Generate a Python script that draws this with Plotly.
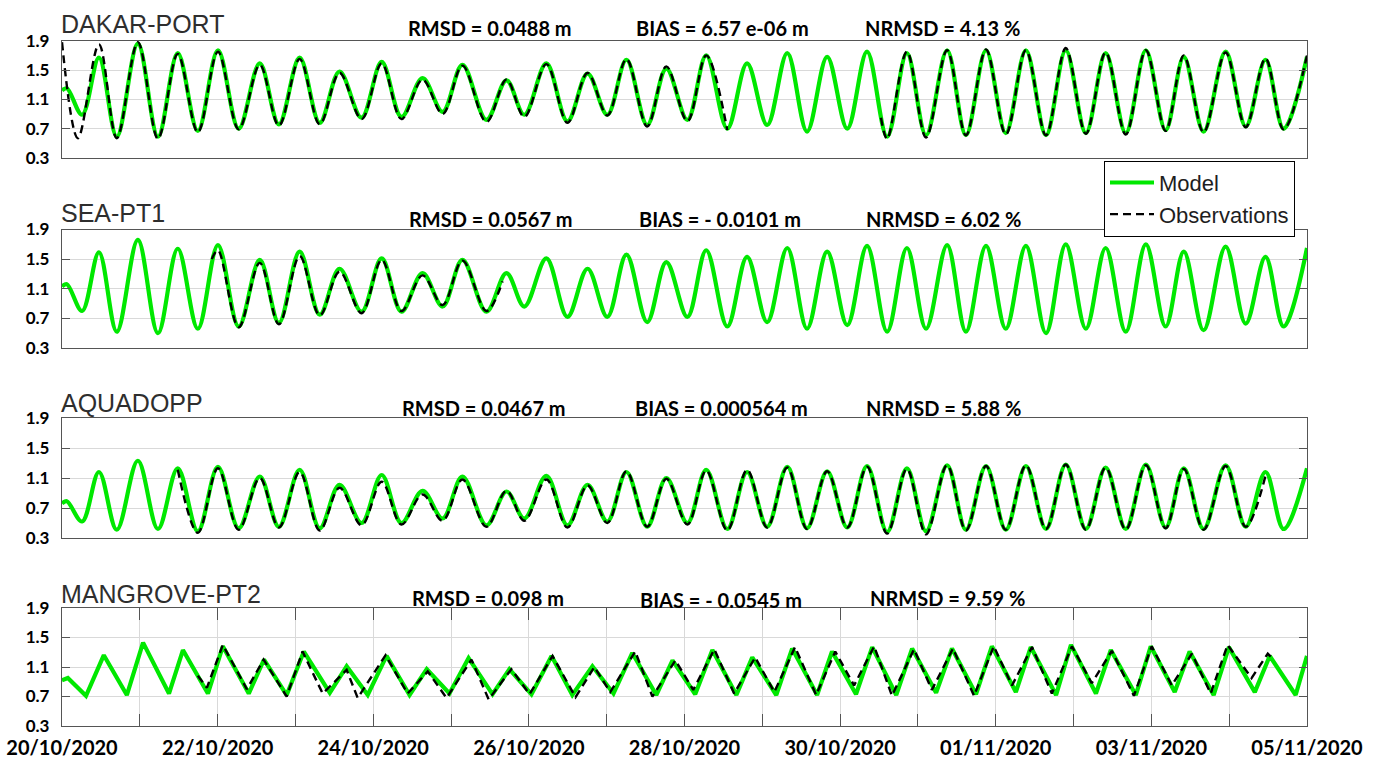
import plotly.graph_objects as go

# ------------------------------------------------------------------ data
# times (hours after 20/10/2020 00:00) of the turning points read off panels 1-3
hours_p123 = [0.0, 1.5, 6.2, 11.4, 16.9, 23.4, 29.6, 35.7, 41.9, 48.1, 54.5, 61.0, 66.9,
              73.3, 79.5, 85.6, 92.4, 98.6, 104.7, 111.2, 117.4, 123.5, 130.9, 137.1,
              142.6, 149.4, 155.9, 162.1, 168.2, 174.1, 180.5, 186.4, 192.9, 198.7,
              205.2, 211.3, 217.5, 223.7, 229.8, 236.0, 242.2, 248.3, 254.5, 260.6,
              266.5, 273.0, 278.8, 285.0, 291.1, 297.3, 303.5, 309.6, 315.8, 321.9,
              328.1, 334.3, 340.4, 346.0, 352.1, 358.9, 365.1, 371.2, 376.8, 384.0]

dakar_model = [1.22, 1.25, 0.89, 1.67, 0.59, 1.86, 0.59, 1.73, 0.67, 1.77, 0.70, 1.59, 0.76,
               1.67, 0.78, 1.48, 0.85, 1.61, 0.86, 1.39, 0.93, 1.57, 0.82, 1.36, 0.89, 1.59,
               0.80, 1.45, 0.89, 1.64, 0.75, 1.52, 0.82, 1.70, 0.70, 1.59, 0.75, 1.73, 0.66,
               1.68, 0.70, 1.75, 0.59, 1.73, 0.61, 1.77, 0.61, 1.77, 0.64, 1.77, 0.61, 1.77,
               0.64, 1.73, 0.64, 1.77, 0.68, 1.68, 0.66, 1.75, 0.73, 1.64, 0.70, 1.68]
dakar_obs_hours = [0.0, 4.9, 11.4, 16.9, 23.4, 29.6, 35.7, 41.9, 48.1, 54.5, 61.0, 66.9, 73.3,
                   79.5, 85.6, 92.4, 98.6, 104.7, 111.2, 117.4, 123.5, 130.9, 137.1, 142.6,
                   149.4, 155.9, 162.1, 168.2, 174.1, 180.5, 186.4, 192.9, 198.7, 205.2,
                   230.0, 252.6, 254.5, 260.6, 266.5, 273.0, 278.8, 285.0, 291.1, 297.3,
                   303.5, 309.6, 315.8, 321.9, 328.1, 334.3, 340.4, 346.0, 352.1, 358.9,
                   365.1, 371.2, 376.8, 384.0]
dakar_obs = [1.88, 0.57, 1.85, 0.57, 1.88, 0.56, 1.72, 0.65, 1.75, 0.69, 1.57, 0.74, 1.65,
             0.76, 1.46, 0.83, 1.59, 0.83, 1.37, 0.90, 1.56, 0.79, 1.37, 0.86, 1.58, 0.78,
             1.46, 0.88, 1.65, 0.73, 1.55, 0.80, 1.70, 0.68, None, 0.85, 0.56, 1.75, 0.58,
             1.77, 0.61, 1.78, 0.62, 1.77, 0.61, 1.80, 0.63, 1.74, 0.62, 1.77, 0.67, 1.70,
             0.65, 1.74, 0.72, 1.66, 0.69, 1.70]

seapt1_model = [1.13, 1.16, 0.80, 1.59, 0.52, 1.76, 0.50, 1.64, 0.56, 1.69, 0.59, 1.49, 0.64,
                1.60, 0.75, 1.37, 0.79, 1.51, 0.79, 1.31, 0.86, 1.49, 0.79, 1.31, 0.86, 1.51,
                0.72, 1.37, 0.72, 1.56, 0.65, 1.46, 0.72, 1.62, 0.59, 1.53, 0.65, 1.65, 0.56,
                1.60, 0.61, 1.68, 0.52, 1.65, 0.56, 1.69, 0.52, 1.68, 0.56, 1.68, 0.50, 1.70,
                0.56, 1.65, 0.52, 1.70, 0.59, 1.60, 0.54, 1.67, 0.63, 1.53, 0.59, 1.65]
seapt1_obs_hours = [46.2, 48.1, 54.5, 61.0, 66.9, 73.3, 79.5, 85.6, 92.4, 98.6, 104.7, 111.2,
                    117.4, 123.5, 130.9, 135.9]
seapt1_obs = [1.50, 1.62, 0.58, 1.45, 0.62, 1.54, 0.74, 1.33, 0.77, 1.49, 0.80, 1.28, 0.88,
              1.48, 0.80, 1.20]

aquadopp_model = [0.76, 0.79, 0.52, 1.18, 0.41, 1.33, 0.42, 1.23, 0.39, 1.25, 0.43, 1.12, 0.45,
                  1.21, 0.43, 1.01, 0.50, 1.14, 0.50, 0.93, 0.56, 1.12, 0.47, 0.92, 0.56, 1.13,
                  0.47, 1.01, 0.52, 1.18, 0.45, 1.10, 0.50, 1.21, 0.42, 1.18, 0.45, 1.25, 0.43,
                  1.19, 0.44, 1.26, 0.38, 1.23, 0.39, 1.27, 0.41, 1.26, 0.41, 1.26, 0.42, 1.28,
                  0.42, 1.24, 0.42, 1.28, 0.44, 1.23, 0.42, 1.27, 0.45, 1.18, 0.42, 1.23]
aquadopp_obs_hours = [35.7, 41.9, 48.1, 54.5, 61.0, 66.9, 73.3, 79.5, 85.6, 92.4, 98.6, 104.7,
                      111.2, 117.4, 123.5, 130.9, 137.1, 142.6, 149.4, 155.9, 162.1, 168.2,
                      174.1, 180.5, 186.4, 192.9, 198.7, 205.2, 211.3, 217.5, 223.7, 229.8,
                      236.0, 242.2, 248.3, 254.5, 260.6, 266.5, 273.0, 278.8, 285.0, 291.1,
                      297.3, 303.5, 309.6, 315.8, 321.9, 328.1, 334.3, 340.4, 346.0, 352.1,
                      358.9, 365.1, 371.2]
aquadopp_obs = [1.21, 0.37, 1.23, 0.41, 1.10, 0.44, 1.18, 0.40, 0.97, 0.47, 1.05, 0.48, 0.88,
                0.53, 1.08, 0.45, 0.93, 0.53, 1.08, 0.44, 1.00, 0.50, 1.19, 0.45, 1.09, 0.48,
                1.20, 0.40, 1.21, 0.44, 1.24, 0.42, 1.19, 0.44, 1.25, 0.36, 1.22, 0.35, 1.27,
                0.40, 1.26, 0.41, 1.27, 0.42, 1.28, 0.41, 1.24, 0.41, 1.27, 0.43, 1.22, 0.41,
                1.26, 0.45, 1.13]

mangrove_hours = [0.0, 1.8, 7.4, 12.9, 20.0, 25.0, 33.0, 37.3, 45.0, 49.6, 57.6, 62.3, 69.3,
                  74.6, 82.6, 87.8, 94.3, 100.1, 107.2, 112.5, 119.5, 125.4, 132.8, 138.0,
                  144.8, 151.0, 157.4, 163.6, 170.1, 175.9, 183.3, 188.3, 195.3, 200.6, 208.0,
                  212.9, 220.3, 225.2, 232.9, 237.5, 244.9, 249.9, 257.3, 262.2, 269.6, 274.5,
                  281.9, 286.8, 294.2, 298.8, 306.6, 311.2, 318.9, 323.5, 331.2, 335.8, 343.2,
                  347.8, 355.2, 359.9, 367.9, 372.5, 380.5, 384.0]
mangrove_model = [0.92, 0.95, 0.71, 1.26, 0.72, 1.43, 0.74, 1.33, 0.74, 1.38, 0.74, 1.20, 0.72,
                  1.31, 0.75, 1.11, 0.72, 1.25, 0.72, 1.07, 0.74, 1.22, 0.73, 1.07, 0.73, 1.25,
                  0.72, 1.11, 0.74, 1.29, 0.72, 1.19, 0.73, 1.33, 0.72, 1.23, 0.72, 1.35, 0.72,
                  1.31, 0.73, 1.37, 0.72, 1.35, 0.75, 1.35, 0.73, 1.38, 0.76, 1.37, 0.72, 1.40,
                  0.74, 1.33, 0.72, 1.38, 0.76, 1.31, 0.72, 1.37, 0.76, 1.25, 0.72, 1.25]
mangrove_obs_hours = [41.9, 44.7, 49.6, 57.0, 62.2, 69.3, 74.2, 80.4, 87.8, 91.2, 99.8, 106.6,
                      112.8, 118.6, 126.3, 131.6, 138.6, 144.2, 151.3, 158.4, 164.2, 169.1,
                      176.8, 182.1, 189.2, 194.7, 201.2, 207.3, 213.8, 219.7, 226.1, 232.6,
                      238.5, 244.3, 250.5, 256.0, 262.8, 268.3, 274.8, 281.3, 287.4, 293.0,
                      299.2, 305.3, 311.5, 317.6, 323.8, 330.6, 336.1, 342.3, 348.5, 354.3,
                      359.5, 366.9, 371.9, 373.7]
mangrove_obs = [0.98, 0.82, 1.40, 0.80, 1.20, 0.70, 1.31, 0.74, 1.06, 0.68, 1.26, 0.74, 1.04,
                0.68, 1.20, 0.66, 1.07, 0.73, 1.25, 0.69, 1.10, 0.76, 1.31, 0.70, 1.19, 0.79,
                1.34, 0.74, 1.23, 0.76, 1.37, 0.72, 1.31, 0.85, 1.38, 0.71, 1.34, 0.79, 1.35,
                0.71, 1.38, 0.85, 1.37, 0.74, 1.38, 0.88, 1.32, 0.71, 1.38, 0.85, 1.28, 0.74,
                1.40, 0.95, 1.28, 1.20]

station_names = ["DAKAR-PORT", "SEA-PT1", "AQUADOPP", "MANGROVE-PT2"]
rmsd_labels = ["RMSD = 0.0488 m", "RMSD = 0.0567 m", "RMSD = 0.0467 m", "RMSD = 0.098 m"]
bias_labels = ["BIAS = 6.57 e-06 m", "BIAS = - 0.0101 m", "BIAS = 0.000564 m",
               "BIAS = - 0.0545 m"]
nrmsd_labels = ["NRMSD = 4.13 %", "NRMSD = 6.02 %", "NRMSD = 5.88 %", "NRMSD = 9.59 %"]

y_tick_values = [0.3, 0.7, 1.1, 1.5, 1.9]
y_tick_labels = ["0.3", "0.7", "1.1", "1.5", "1.9"]
day_tick_hours = [0, 24, 48, 72, 96, 120, 144, 168, 192, 216, 240, 264, 288, 312, 336, 360, 384]
day_tick_labels = ["20/10/2020", "", "22/10/2020", "", "24/10/2020", "", "26/10/2020", "",
                   "28/10/2020", "", "30/10/2020", "", "01/11/2020", "", "03/11/2020", "",
                   "05/11/2020"]

# ------------------------------------------------------------------ layout helpers
W, H = 1374, 758
ML, MR, MT, MB = 62, 67, 40, 32
PH = H - MT - MB
PW = W - ML - MR
panel_px = [(40.7, 158.0), (229.5, 348.0), (418.0, 538.0), (608.0, 726.0)]


def py(ypx):
    return (H - MB - ypx) / PH


def px(xpx):
    return (xpx - ML) / PW


GREEN = "#00e800"
FRAME = "#555555"
GRID = "#d9d9d9"

series = [
    (hours_p123, dakar_model, dakar_obs_hours, dakar_obs, "spline"),
    (hours_p123, seapt1_model, seapt1_obs_hours, seapt1_obs, "spline"),
    (hours_p123, aquadopp_model, aquadopp_obs_hours, aquadopp_obs, "spline"),
    (mangrove_hours, mangrove_model, mangrove_obs_hours, mangrove_obs, "linear"),
]

fig = go.Figure()
layout = {}
for i, (mt, mv, ot, ov, shape) in enumerate(series):
    xr = "x" if i == 0 else f"x{i+1}"
    yr = "y" if i == 0 else f"y{i+1}"
    fig.add_trace(go.Scatter(x=mt, y=mv, mode="lines", name="Model",
                             line=dict(color=GREEN, width=4.2, shape=shape),
                             showlegend=(i == 0), legendrank=1, xaxis=xr, yaxis=yr))
    fig.add_trace(go.Scatter(x=ot, y=ov, mode="lines", name="Observations",
                             line=dict(color="black", width=2.4, dash="8px,5px", shape=shape),
                             connectgaps=False, showlegend=(i == 0), legendrank=2,
                             xaxis=xr, yaxis=yr))
    top, bot = panel_px[i]
    xa = "xaxis" if i == 0 else f"xaxis{i+1}"
    ya = "yaxis" if i == 0 else f"yaxis{i+1}"
    last = (i == 3)
    layout[xa] = dict(domain=[0, 1], anchor=yr, range=[0, 384], showline=True,
                      linecolor=FRAME, linewidth=1.3, zeroline=False, automargin=False,
                      mirror="ticks" if last else True,
                      tickmode="array", tickvals=day_tick_hours, ticktext=day_tick_labels,
                      showticklabels=last, ticks="inside" if last else "",
                      ticklen=12, tickwidth=1.3, tickcolor=FRAME,
                      showgrid=last, gridcolor=GRID, gridwidth=1,
                      tickfont=dict(family="Lato", size=20, color="black", weight="bold"),
                      ticklabelstandoff=4)
    layout[ya] = dict(domain=[py(bot), py(top)], anchor=xr, range=[0.3, 1.9],
                      automargin=False,
                      tickmode="array", tickvals=y_tick_values, ticktext=y_tick_labels,
                      ticks="inside", ticklen=8, tickwidth=1.3, tickcolor=FRAME,
                      showline=True, linecolor=FRAME, linewidth=1.3, mirror="ticks",
                      showgrid=True, gridcolor=GRID, gridwidth=1, zeroline=False,
                      tickfont=dict(family="Lato", size=17, color="black", weight="bold"),
                      ticklabelstandoff=8)

title_cy = [23.5, 212.5, 402.5, 593.5]
stats_cy = [28, 219, 408, 598]
rmsd_cx = [490, 491, 484, 488]
bias_cx = [722, 720, 721, 721]
nrmsd_cx = [942, 943, 943, 948]

ann = []
for i in range(4):
    ann.append(dict(text=station_names[i], x=0, xref="paper", xanchor="left", xshift=-3,
                    y=py(title_cy[i]), yref="paper", yanchor="middle", showarrow=False,
                    font=dict(family="Liberation Sans", size=25, color="#2e2e2e")))
    for txt, cx in ((rmsd_labels[i], rmsd_cx[i]), (bias_labels[i], bias_cx[i]),
                    (nrmsd_labels[i], nrmsd_cx[i])):
        ann.append(dict(text=txt, x=px(cx), xref="paper", xanchor="center",
                        y=py(stats_cy[i] + (2 if (i == 3 and txt.startswith("BIAS")) else 0)),
                        yref="paper", yanchor="middle", showarrow=False,
                        font=dict(family="Lato", size=20, color="black", weight="bold")))

fig.update_layout(
    width=W, height=H,
    margin=dict(l=ML, r=MR, t=MT, b=MB, autoexpand=False),
    paper_bgcolor="white", plot_bgcolor="white",
    annotations=ann,
    legend=dict(x=px(1104), xanchor="left", y=py(160.7), yanchor="top",
                bgcolor="white", bordercolor="black", borderwidth=1,
                font=dict(family="Liberation Sans", size=22, color="#1e1e1e"),
                tracegroupgap=0, itemwidth=44),
    **layout,
)

fig.write_html("out.html", config={"displayModeBar": False})

# remove the browser's default page margin so the figure sits at the window origin
with open("out.html", "r", encoding="utf-8") as fh:
    page = fh.read()
page = page.replace("<head>", "<head><style>html,body{margin:0;padding:0;overflow:hidden;}</style>", 1)
with open("out.html", "w", encoding="utf-8") as fh:
    fh.write(page)
